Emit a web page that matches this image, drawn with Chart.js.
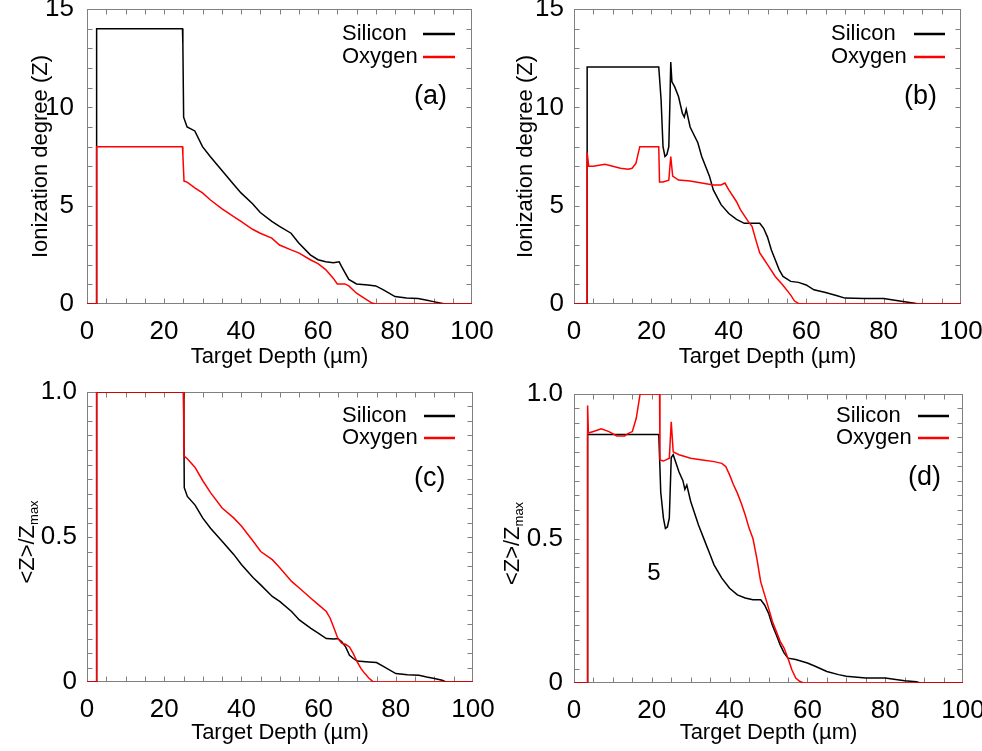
<!DOCTYPE html>
<html>
<head>
<meta charset="utf-8">
<script src="https://cdn.jsdelivr.net/npm/chart.js@4"></script>
<style>
body { margin: 0; background: #fff; }
canvas { position: absolute; }
</style>
</head>
<body>
<canvas id="pa" width="511" height="375" style="left:0;top:0"></canvas>
<canvas id="pb" width="491" height="375" style="left:491px;top:0"></canvas>
<canvas id="pc" width="511" height="376" style="left:0;top:375px"></canvas>
<canvas id="pd" width="491" height="376" style="left:491px;top:375px"></canvas>
<script>
const FONT = '"Liberation Sans", Arial, sans-serif';

const xTicks = [0, 20, 40, 60, 80, 100];
const zTicks = [0, 5, 10, 15];
const rTicks = [0, 0.5, 1.0];

// (a) ionization degree, case 1
const siA_x = [0, 2.5, 2.5, 24.8, 24.9, 25.1, 26, 28, 30, 32, 35, 38, 40, 43, 45, 48, 50, 53, 55, 58, 60, 62, 64, 65.5, 66, 67, 68, 70, 73, 75, 77, 80, 83, 86, 88, 90, 92, 93, 100];
const siA_y = [0, 0, 14, 14, 13.2, 9.5, 9.0, 8.8, 8.0, 7.5, 6.8, 6.1, 5.65, 5.1, 4.65, 4.2, 3.95, 3.6, 3.1, 2.5, 2.25, 2.15, 2.1, 2.15, 1.95, 1.6, 1.25, 1.02, 0.97, 0.92, 0.72, 0.38, 0.3, 0.28, 0.2, 0.12, 0.04, 0, 0];
const oxA_x = [0, 2.5, 2.5, 24.8, 24.9, 25.2, 26, 28, 30, 32, 35, 38, 40, 43, 45, 48, 50, 53, 55, 58, 60, 62, 64, 65, 67, 68, 70, 72, 74, 75, 100];
const oxA_y = [0, 0, 8, 8, 7.6, 6.25, 6.2, 5.9, 5.65, 5.3, 4.85, 4.45, 4.2, 3.8, 3.6, 3.35, 3.0, 2.75, 2.6, 2.25, 2.05, 1.75, 1.3, 1.02, 1.02, 0.92, 0.55, 0.3, 0.05, 0, 0];

// (b) ionization degree, case 2
const siB_x = [0, 3.4, 3.4, 21.9, 22.5, 23, 23.5, 24, 24.5, 24.8, 25, 25.3, 26, 27, 28, 28.5, 29, 30, 32, 33, 35, 36, 38, 40, 42, 44, 46, 48, 49, 50, 51, 52, 53, 54, 56, 58, 60, 62, 65, 68, 70, 75, 80, 85, 88, 89, 100];
const siB_y = [0, 0, 12.05, 12.05, 10.4, 8.0, 7.5, 7.6, 8.0, 10.4, 12.3, 11.3, 11.05, 10.55, 9.7, 9.5, 9.9, 9.0, 8.2, 7.5, 6.5, 5.8, 5.05, 4.6, 4.3, 4.1, 4.1, 4.1, 3.85, 3.4, 2.75, 2.25, 1.75, 1.4, 1.15, 1.1, 0.97, 0.72, 0.58, 0.42, 0.3, 0.28, 0.28, 0.13, 0.04, 0, 0];
const oxB_x = [0, 3.4, 3.4, 3.8, 5, 8, 10, 12, 14, 15, 16, 17, 21.9, 22.1, 23, 24.5, 25, 25.5, 27, 30, 33, 36, 38, 39, 40, 42, 43, 45, 46, 47, 48, 49, 50, 52, 54, 56, 57, 58, 60, 100];
const oxB_y = [0, 0, 7.7, 7.0, 7.0, 7.1, 7.0, 6.9, 6.85, 6.9, 7.15, 8, 8, 6.2, 6.2, 6.3, 7.5, 6.5, 6.3, 6.25, 6.15, 6.05, 6.05, 6.15, 5.8, 5.2, 4.8, 4.2, 3.95, 3.25, 2.6, 2.3, 2.0, 1.4, 0.95, 0.45, 0.15, 0.03, 0, 0];

// (c) normalised, case 1
const siC_x = [0, 2.5, 2.5, 25, 25.1, 25.2, 26, 28, 30, 32, 35, 38, 40, 43, 45, 48, 50, 53, 55, 58, 60, 62, 64, 65, 66, 67, 68, 69, 70, 73, 75, 77, 80, 83, 86, 88, 90, 92, 93, 100];
const siC_y = [0, 0, 1, 1, 0.88, 0.67, 0.64, 0.61, 0.565, 0.53, 0.485, 0.44, 0.405, 0.36, 0.335, 0.295, 0.277, 0.243, 0.214, 0.185, 0.168, 0.15, 0.148, 0.15, 0.139, 0.121, 0.092, 0.081, 0.072, 0.069, 0.067, 0.052, 0.029, 0.025, 0.023, 0.017, 0.012, 0.006, 0, 0];
const oxC_x = [0, 2.5, 2.5, 25, 25.1, 26, 28, 30, 32, 35, 38, 40, 43, 45, 48, 50, 53, 55, 58, 60, 62, 63, 64, 65, 66, 67, 68, 69, 70, 71, 72, 73, 74, 75, 100];
const oxC_y = [0, 0, 1, 1, 0.78, 0.77, 0.74, 0.694, 0.653, 0.6, 0.566, 0.538, 0.486, 0.45, 0.422, 0.393, 0.347, 0.324, 0.289, 0.266, 0.243, 0.22, 0.185, 0.15, 0.133, 0.13, 0.121, 0.098, 0.069, 0.046, 0.029, 0.014, 0.002, 0, 0];

// (d) normalised, case 2
const siD_x = [0, 3.5, 3.5, 21.8, 22.3, 23, 23.5, 24, 24.5, 25, 25.5, 26, 27, 28, 28.5, 29, 30, 32, 34, 35, 36, 38, 40, 42, 44, 46, 48, 49, 50, 51, 52, 53, 54, 55, 57, 60, 62, 65, 68, 70, 75, 80, 85, 88, 89, 100];
const siD_y = [0, 0, 0.86, 0.86, 0.66, 0.57, 0.535, 0.54, 0.57, 0.78, 0.79, 0.77, 0.73, 0.70, 0.67, 0.685, 0.628, 0.547, 0.478, 0.444, 0.409, 0.363, 0.328, 0.305, 0.294, 0.288, 0.288, 0.27, 0.242, 0.2, 0.167, 0.132, 0.104, 0.086, 0.081, 0.069, 0.058, 0.04, 0.029, 0.023, 0.017, 0.017, 0.008, 0.004, 0, 0];
const oxD_x = [0, 3.5, 3.5, 3.7, 5, 7, 9, 11, 13, 14, 15, 16, 17, 22, 22.1, 23, 24.5, 25, 25.5, 27, 30, 33, 36, 38, 39, 40, 41, 42, 43, 44, 45, 46, 47, 48, 49, 50, 51, 52, 53, 54, 55, 56, 57, 58, 59, 100];
const oxD_y = [0, 0, 0.96, 0.865, 0.87, 0.88, 0.87, 0.855, 0.855, 0.864, 0.87, 0.916, 1, 1, 0.772, 0.768, 0.778, 0.904, 0.8, 0.79, 0.778, 0.772, 0.766, 0.76, 0.749, 0.72, 0.686, 0.657, 0.622, 0.582, 0.536, 0.5, 0.431, 0.35, 0.305, 0.26, 0.213, 0.179, 0.144, 0.121, 0.086, 0.046, 0.017, 0.006, 0, 0];

function pts(xs, ys) {
    return xs.map((x, i) => ({x: x, y: ys[i]}));
}

// frame, inward ticks, legend, panel letter and the odd y title
const panelDeco = {
    id: 'panelDeco',
    beforeDatasetsDraw(chart, args, o) {
        const ctx = chart.ctx;
        const a = chart.chartArea;
        const xs = chart.scales.x, ys = chart.scales.y;
        ctx.save();
        ctx.strokeStyle = '#808080';
        ctx.lineWidth = 1;
        const L = Math.round(a.left) + 0.5, R = Math.round(a.right) - 0.5;
        const T = Math.round(a.top) + 0.5, B = Math.round(a.bottom) - 0.5;
        ctx.strokeRect(L, T, R - L, B - T);
        ctx.beginPath();
        for (let v = 5; v < 100; v += 5) {
            const p = Math.round(xs.getPixelForValue(v)) + 0.5;
            ctx.moveTo(p, B); ctx.lineTo(p, B - 5);
            ctx.moveTo(p, T); ctx.lineTo(p, T + 5);
        }
        const n = Math.round(ys.max / o.yMinor);
        for (let i = 1; i < n; i++) {
            const p = Math.round(ys.getPixelForValue(i * o.yMinor)) + 0.5;
            ctx.moveTo(L, p); ctx.lineTo(L + 5, p);
            ctx.moveTo(R, p); ctx.lineTo(R - 5, p);
        }
        ctx.stroke();
        ctx.restore();
    },
    afterDraw(chart, args, o) {
        const ctx = chart.ctx;
        ctx.save();
        ctx.fillStyle = '#000';
        ctx.textBaseline = 'middle';
        ctx.textAlign = 'left';
        ctx.font = '22px ' + FONT;
        const names = ['Silicon', 'Oxygen'];
        const cols = ['#000000', '#ff0000'];
        for (let i = 0; i < 2; i++) {
            const yy = o.legY[i];
            ctx.fillStyle = '#000';
            ctx.fillText(names[i], o.legX, yy);
            ctx.strokeStyle = cols[i];
            ctx.lineWidth = 2.5;
            ctx.beginPath();
            ctx.moveTo(o.line[0], yy); ctx.lineTo(o.line[1], yy);
            ctx.stroke();
        }
        ctx.fillStyle = '#000';
        ctx.font = '27px ' + FONT;
        ctx.fillText(o.tag, o.tagX, o.tagY);
        if (o.note) {
            ctx.font = '24px ' + FONT;
            ctx.textAlign = 'center';
            ctx.fillText(o.note.text, o.note.x, o.note.y);
        }
        if (o.ratioTitle) {
            const a = chart.chartArea;
            const main = '<Z>/Z', sub = 'max';
            ctx.font = '22px ' + FONT;
            const w1 = ctx.measureText(main).width;
            ctx.font = '13px ' + FONT;
            const w2 = ctx.measureText(sub).width;
            ctx.translate(o.ratioTitle, (a.top + a.bottom) / 2 + 5);
            ctx.rotate(-Math.PI / 2);
            ctx.textAlign = 'left';
            ctx.textBaseline = 'alphabetic';
            const x0 = -(w1 + w2) / 2;
            ctx.font = '22px ' + FONT;
            ctx.fillText(main, x0, 8);
            ctx.font = '13px ' + FONT;
            ctx.fillText(sub, x0 + w1, 12);
        }
        ctx.restore();
    }
};

function makePanel(id, si, ox, p) {
    const ratio = p.ymax === 1;
    new Chart(document.getElementById(id), {
        type: 'line',
        data: {
            datasets: [
                {label: 'Silicon', data: si, borderColor: '#000000', borderWidth: 1.5, pointRadius: 0, tension: 0, order: 1},
                {label: 'Oxygen', data: ox, borderColor: '#ff0000', borderWidth: 1.5, pointRadius: 0, tension: 0, order: 0}
            ]
        },
        options: {
            responsive: false,
            animation: false,
            layout: {padding: {top: p.top, right: p.right, left: 0, bottom: 0}},
            plugins: {
                legend: {display: false},
                tooltip: {enabled: false},
                panelDeco: p.deco
            },
            scales: {
                x: {
                    type: 'linear', min: 0, max: 100,
                    grid: {display: false}, border: {display: false},
                    afterBuildTicks: s => { s.ticks = xTicks.map(v => ({value: v})); },
                    ticks: {color: '#000', font: {size: 26, family: FONT}, padding: 4, maxRotation: 0, autoSkip: false},
                    title: {display: true, text: 'Target Depth (µm)', color: '#000', font: {size: 22, family: FONT}, padding: {top: 0, bottom: 5}},
                    afterFit: s => { s.height = p.xh; s.paddingLeft = 0; s.paddingRight = 0; }
                },
                y: {
                    type: 'linear', min: 0, max: p.ymax,
                    grid: {display: false}, border: {display: false},
                    afterBuildTicks: s => { s.ticks = (ratio ? rTicks : zTicks).map(v => ({value: v})); },
                    ticks: {
                        color: '#000', font: {size: 26, family: FONT}, padding: p.lpad, autoSkip: false,
                        callback: v => ratio ? (v === 0 ? '0' : v.toFixed(1)) : String(v)
                    },
                    title: {display: !ratio, text: 'Ionization degree (Z)', color: '#000', font: {size: 22, family: FONT}, padding: {top: p.tpad, bottom: 0}},
                    afterFit: s => { s.width = p.yw; s.paddingTop = 0; s.paddingBottom = 0; }
                }
            }
        },
        plugins: [panelDeco]
    });
}

makePanel('pa', pts(siA_x, siA_y), pts(oxA_x, oxA_y), {
    ymax: 15, top: 9, right: 39, yw: 87, xh: 71, lpad: 5, tpad: 28,
    deco: {yMinor: 1, legX: 342, legY: [34, 57], line: [423, 455], tag: '(a)', tagX: 414, tagY: 97}
});
makePanel('pb', pts(siB_x, siB_y), pts(oxB_x, oxB_y), {
    ymax: 15, top: 9, right: 21, yw: 83, xh: 71, lpad: 2, tpad: 22,
    deco: {yMinor: 1, legX: 340, legY: [34, 57], line: [423, 454], tag: '(b)', tagX: 413, tagY: 97}
});
makePanel('pc', pts(siC_x, siC_y), pts(oxC_x, oxC_y), {
    ymax: 1, top: 17, right: 38, yw: 87, xh: 69, lpad: 2, tpad: 0,
    deco: {yMinor: 0.05, legX: 342, legY: [41, 63], line: [424, 455], tag: '(c)', tagX: 414, tagY: 104, ratioTitle: 26}
});
makePanel('pd', pts(siD_x, siD_y), pts(oxD_x, oxD_y), {
    ymax: 1, top: 19, right: 19, yw: 83, xh: 68, lpad: 3, tpad: 0,
    deco: {yMinor: 0.05, legX: 345, legY: [41, 63], line: [427, 458], tag: '(d)', tagX: 417, tagY: 103, ratioTitle: 20,
           note: {text: '5', x: 163, y: 198}}
});
</script>
</body>
</html>
